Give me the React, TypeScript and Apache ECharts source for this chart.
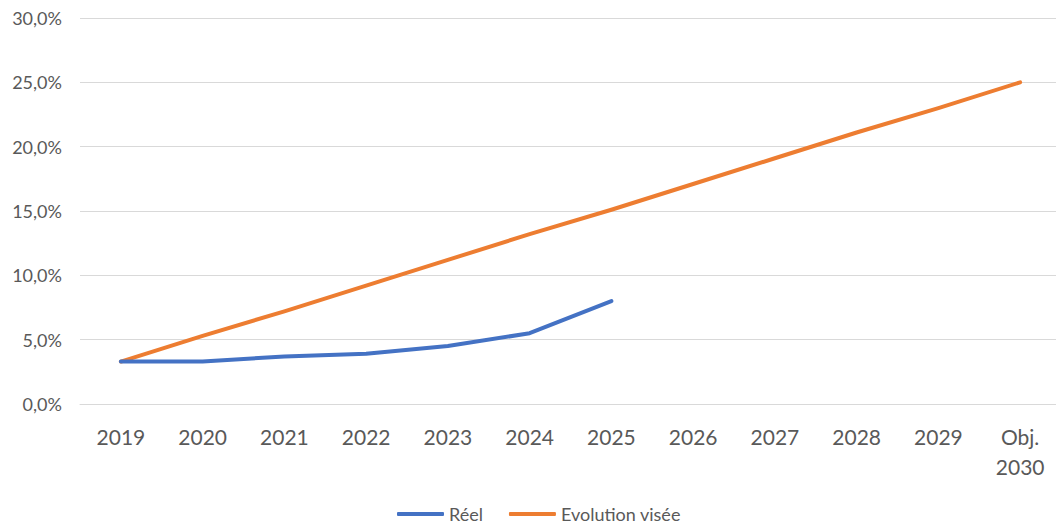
import React, { useEffect, useRef } from "react";
import * as echarts from "echarts";

const categories = ["2019", "2020", "2021", "2022", "2023", "2024", "2025", "2026", "2027", "2028", "2029", "Obj.\n2030"];
const reel = [3.3, 3.3, 3.7, 3.9, 4.5, 5.5, 8.0, null, null, null, null, null];
const visee = [3.3, 5.3, 7.2, 9.2, 11.2, 13.2, 15.1, 17.1, 19.1, 21.1, 23.0, 25.0];

const FONT = "Lato, 'Open Sans', sans-serif";

export default function App() {
  const ref = useRef<HTMLDivElement>(null);
  useEffect(() => {
    if (!ref.current) return;
    document.documentElement.style.overflow = "hidden";
    document.body.style.overflow = "hidden";
    const chart = echarts.init(ref.current, null, { renderer: "svg" });
    chart.setOption({
      animation: false,
      textStyle: { fontFamily: FONT },
      grid: { left: 80, right: 0, top: 18, height: 386, containLabel: false },
      legend: {
        top: 500,
        left: 392,
        itemWidth: 47,
        itemHeight: 4,
        itemGap: 26,
        icon: "roundRect",
        textStyle: { color: "#595959", fontSize: 18, fontFamily: FONT, padding: [0, 0, 0, 0] },
        data: ["Réel", "Evolution visée"],
      },
      xAxis: {
        type: "category",
        data: categories,
        boundaryGap: true,
        axisLine: { lineStyle: { color: "#d9d9d9" } },
        axisTick: { show: false },
        axisLabel: { color: "#595959", fontSize: 21, margin: 17, lineHeight: 30, interval: 0, fontFamily: FONT },
      },
      yAxis: {
        type: "value",
        min: 0,
        max: 30,
        interval: 5,
        axisLine: { show: false },
        axisTick: { show: false },
        splitLine: { lineStyle: { color: "#d9d9d9" } },
        axisLabel: {
          color: "#595959",
          fontSize: 18,
          margin: 18,
          fontFamily: FONT,
          formatter: (v: number) => v.toFixed(1).replace(".", ",") + "%",
        },
      },
      series: [
        {
          name: "Réel",
          type: "line",
          data: reel,
          showSymbol: false,
          symbol: "none",
          lineStyle: { color: "#4472C4", width: 4, cap: "round", join: "round" },
          itemStyle: { color: "#4472C4" },
          z: 3,
        },
        {
          name: "Evolution visée",
          type: "line",
          data: visee,
          showSymbol: false,
          symbol: "none",
          lineStyle: { color: "#ED7D31", width: 4, cap: "round", join: "round" },
          itemStyle: { color: "#ED7D31" },
          z: 2,
        },
      ],
    });
    return () => chart.dispose();
  }, []);
  return (
    <div
      ref={ref}
      style={{ position: "absolute", left: 0, top: 0, width: 1061, height: 526, background: "#fff" }}
    />
  );
}
